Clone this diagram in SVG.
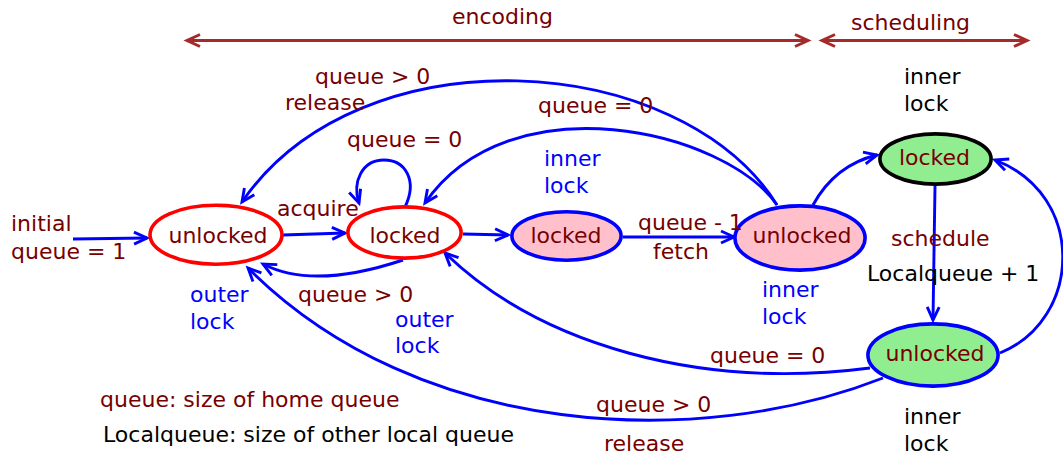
<svg xmlns="http://www.w3.org/2000/svg" width="1063" height="456" viewBox="0 0 1063 456">
<style>
text{font-family:"DejaVu Sans","Noto Sans",sans-serif;font-size:22px}
.lbl{fill:#760000}
.blu{fill:#0000ff}
.blk{fill:#000}
.nt{fill:#760000;text-anchor:middle}
.e{fill:none;stroke:#0000ff;stroke-width:2.9}
.b{fill:none;stroke:#a52a2a;stroke-width:3}
.red{fill:#fff;stroke:#ff0000;stroke-width:3.6}
.pink{fill:#ffc0cb;stroke:#0000ff;stroke-width:3.6}
.grn{fill:#90ee90;stroke:#0000ff;stroke-width:3.6}
.grnk{fill:#90ee90;stroke:#000;stroke-width:3.6}
</style>
<defs>
<marker id="ab" viewBox="-16 -10 20 20" refX="0" refY="0" markerWidth="20" markerHeight="20" orient="auto" markerUnits="userSpaceOnUse">
<path d="M-13,-6 L0,0 L-13,6" fill="none" stroke="#0000ff" stroke-width="2.9"/>
</marker>
<marker id="ar" viewBox="-16 -10 20 20" refX="0" refY="0" markerWidth="20" markerHeight="20" orient="auto-start-reverse" markerUnits="userSpaceOnUse">
<path d="M-13,-6 L0,0 L-13,6" fill="none" stroke="#a52a2a" stroke-width="3"/>
</marker>
</defs>

<g id="ranges">
<line class="b" x1="187" y1="40.5" x2="808" y2="40.5" marker-start="url(#ar)" marker-end="url(#ar)"/>
<line class="b" x1="822" y1="40.5" x2="1027" y2="40.5" marker-start="url(#ar)" marker-end="url(#ar)"/>
<text class="lbl" x="452" y="24">encoding</text>
<text class="lbl" x="851" y="30">scheduling</text>
</g>

<g id="connectors">
<path id="e_init" class="e" d="M73,239 L147,238" marker-end="url(#ab)"/>
<path id="e_acquire" class="e" d="M283,235 L345,233" marker-end="url(#ab)"/>
<path id="e_loop" class="e" d="M405,207 C418,180 405,160 384,160 C362,160 352,182 359,203" marker-end="url(#ab)"/>
<path id="e_back" class="e" d="M403,260 Q313,290 263,264" marker-end="url(#ab)"/>
<path id="e_r2p" class="e" d="M463,234 L508,235" marker-end="url(#ab)"/>
<path id="e_fetch" class="e" d="M623,237 L734,237" marker-end="url(#ab)"/>
<path id="e_release_top" class="e" d="M777,205 C680,50 360,30 242,202" marker-end="url(#ab)"/>
<path id="e_q0_top" class="e" d="M777,205 C725,130 510,80 425,203" marker-end="url(#ab)"/>
<path id="e_to_sched" class="e" d="M813,205 Q835,165 877,155" marker-end="url(#ab)"/>
<path id="e_schedule" class="e" d="M935,186 L933,320" marker-end="url(#ab)"/>
<path id="e_return" class="e" d="M1000,353 C1082,320 1087,195 995,160" marker-end="url(#ab)"/>
<path id="e_q0_bottom" class="e" d="M870,368 C700,390 540,345 445,253" marker-end="url(#ab)"/>
<path id="e_release_bottom" class="e" d="M883,378 C700,450 420,440 248,268" marker-end="url(#ab)"/>
</g>

<g id="n_unlocked_home">
<ellipse class="red" cx="216" cy="234.7" rx="66" ry="29.5"/>
<text class="nt" x="218" y="243">unlocked</text>
</g>
<g id="n_locked_home">
<ellipse class="red" cx="404.5" cy="232.5" rx="56.6" ry="25.6"/>
<text class="nt" x="405" y="243">locked</text>
</g>
<g id="n_locked_inner">
<ellipse class="pink" cx="566.5" cy="236" rx="54.6" ry="24.2"/>
<text class="nt" x="566" y="243">locked</text>
</g>
<g id="n_unlocked_inner">
<ellipse class="pink" cx="800" cy="238" rx="65.1" ry="32.1"/>
<text class="nt" x="802" y="243">unlocked</text>
</g>
<g id="n_locked_sched">
<ellipse class="grnk" cx="935.5" cy="159" rx="55.6" ry="25.1"/>
<text class="nt" x="934.5" y="165">locked</text>
</g>
<g id="n_unlocked_sched">
<ellipse class="grn" cx="933" cy="355" rx="65.1" ry="31.1"/>
<text class="nt" x="935" y="361">unlocked</text>
</g>

<g id="labels">
<text class="lbl" x="11" y="231">initial</text>
<text class="lbl" x="11" y="259">queue = 1</text>
<text class="lbl" x="277" y="216">acquire</text>
<text class="lbl" x="347" y="147">queue = 0</text>
<text class="lbl" x="315" y="84">queue &gt; 0</text>
<text class="lbl" x="285" y="110">release</text>
<text class="lbl" x="538" y="113">queue = 0</text>
<text class="blu" x="544" y="166">inner</text>
<text class="blu" x="544" y="193">lock</text>
<text class="lbl" x="638" y="230">queue - 1</text>
<text class="lbl" x="653" y="259">fetch</text>
<text class="blk" x="904" y="84">inner</text>
<text class="blk" x="904" y="111">lock</text>
<text class="lbl" x="891" y="246">schedule</text>
<text class="blk" x="867" y="281">Localqueue + 1</text>
<text class="blu" x="190" y="302">outer</text>
<text class="blu" x="190" y="329">lock</text>
<text class="lbl" x="298" y="302">queue &gt; 0</text>
<text class="blu" x="395" y="327">outer</text>
<text class="blu" x="395" y="353">lock</text>
<text class="blu" x="762" y="297">inner</text>
<text class="blu" x="762" y="324">lock</text>
<text class="lbl" x="710" y="363">queue = 0</text>
<text class="lbl" x="100" y="407">queue: size of home queue</text>
<text class="blk" x="103" y="442">Localqueue: size of other local queue</text>
<text class="lbl" x="596" y="412">queue &gt; 0</text>
<text class="lbl" x="604" y="451">release</text>
<text class="blk" x="904" y="424">inner</text>
<text class="blk" x="904" y="451">lock</text>
</g>
</svg>
